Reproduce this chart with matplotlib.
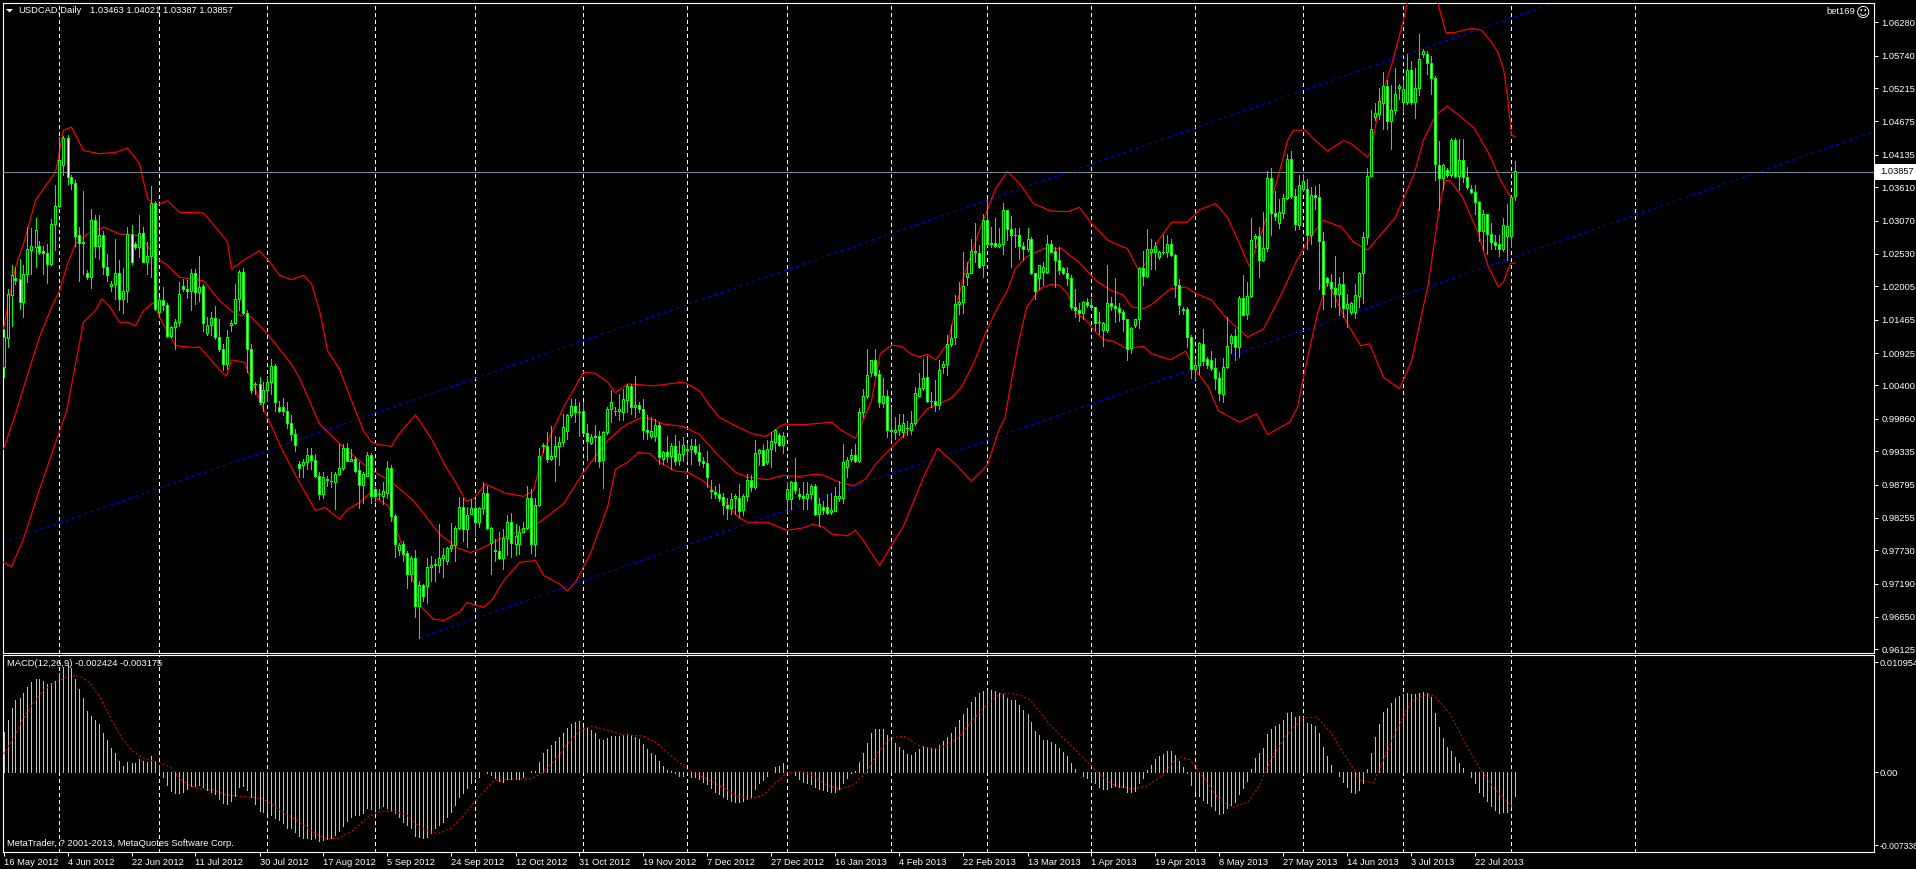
import numpy as np
import matplotlib
matplotlib.use("Agg")
import matplotlib.pyplot as plt
from matplotlib.patches import Polygon, Rectangle

W, H = 1916, 869
plt.rcParams['font.family'] = ['Liberation Sans', 'DejaVu Sans']
plt.rcParams['lines.scale_dashes'] = False

# ---- candles, in pips (price x 10000), one value per daily bar ----
open_pips = [
10068,10116,10185,10213,10211,10173,10219,10258,10262,10264,
10257,10253,10235,10300,10329,10396,10440,10376,10367,10282,
10271,10221,10214,10307,10264,10282,10230,10199,10203,10221,
10179,10192,10284,10268,10262,10286,10238,10248,10334,10157,
10177,10169,10118,10133,10141,10199,10195,10191,10221,10190,
10199,10124,10137,10148,10117,10098,10074,10136,10139,10179,
10223,10156,10098,10041,10041,10012,10031,10044,10070,10003,
10003,9998,9978,9960,9912,9909,9914,9926,9918,9892,
9862,9887,9884,9883,9895,9905,9937,9917,9919,9901,
9877,9892,9926,9871,9862,9859,9865,9905,9827,9772,
9782,9767,9733,9759,9681,9716,9714,9744,9747,9748,
9759,9754,9775,9780,9808,9841,9806,9831,9840,9817,
9840,9864,9783,9772,9770,9759,9791,9818,9782,9782,
9802,9808,9856,9782,9845,9940,9940,9919,9924,9940,
9947,9965,9991,10005,9996,9997,9961,9945,9955,9957,
9918,9963,10001,9998,9998,9996,10015,10037,10003,10007,
10000,9966,9956,9956,9974,9919,9930,9925,9941,9918,
9928,9934,9936,9941,9931,9916,9913,9870,9866,9863,
9858,9845,9840,9856,9856,9837,9859,9885,9874,9929,
9934,9914,9936,9947,9959,9942,9854,9854,9883,9863,
9860,9856,9863,9875,9830,9842,9842,9833,9836,9856,
9856,9907,9919,9926,9917,9996,10022,10061,10079,10057,
10010,10021,9967,9963,9967,9963,9970,9966,9978,10022,
10035,10052,10013,10014,10007,10068,10074,10105,10117,10170,
10174,10215,10221,10254,10253,10233,10306,10267,10270,10265,
10267,10322,10292,10283,10283,10265,10259,10276,10220,10213,
10223,10222,10267,10256,10242,10228,10221,10213,10165,10161,
10156,10173,10169,10165,10141,10129,10129,10172,10167,10164,
10158,10147,10099,10136,10147,10229,10216,10254,10254,10246,
10254,10254,10268,10250,10201,10162,10162,10117,10065,10072,
10106,10082,10080,10067,10051,10025,10068,10107,10119,10101,
10180,10154,10184,10278,10281,10241,10261,10375,10318,10301,
10318,10342,10406,10346,10299,10357,10357,10282,10347,10344,
10273,10213,10206,10197,10186,10203,10164,10157,10157,10184,
10221,10279,10378,10473,10479,10496,10523,10467,10485,10520,
10498,10498,10549,10498,10521,10576,10576,10561,10536,10396,
10375,10387,10380,10436,10377,10403,10376,10356,10352,10335,
10289,10316,10284,10271,10268,10259,10281,10281,10346]

close_pips = [
10117,10186,10218,10210,10173,10219,10260,10264,10291,10255,
10253,10235,10300,10329,10404,10440,10376,10366,10281,10270,
10270,10214,10307,10264,10282,10230,10218,10203,10221,10179,
10192,10284,10238,10262,10286,10238,10249,10334,10163,10177,
10169,10118,10133,10141,10187,10194,10191,10221,10190,10198,
10139,10137,10148,10117,10097,10074,10117,10140,10179,10223,
10156,10098,10031,10041,10011,10031,10044,10070,10012,9998,
9998,9978,9960,9942,9905,9914,9926,9918,9892,9863,
9891,9885,9884,9895,9905,9937,9916,9919,9900,9877,
9895,9926,9859,9860,9862,9867,9905,9827,9782,9780,
9765,9733,9759,9681,9716,9697,9744,9748,9749,9759,
9764,9775,9780,9808,9841,9806,9829,9840,9817,9840,
9864,9807,9807,9770,9759,9791,9818,9783,9794,9802,
9807,9856,9782,9845,9924,9942,9919,9924,9940,9947,
9971,9991,10005,9995,9996,9961,9948,9955,9957,9917,
9963,10000,10012,9998,10001,10016,10037,10003,10007,10000,
9966,9963,9964,9974,9922,9930,9925,9941,9917,9928,
9942,9936,9941,9930,9916,9913,9891,9868,9863,9857,
9845,9840,9854,9859,9836,9859,9885,9874,9929,9934,
9910,9936,9948,9967,9942,9957,9871,9883,9870,9859,
9856,9863,9875,9830,9846,9837,9832,9837,9859,9859,
9915,9918,9926,9916,9996,10022,10056,10079,10056,10011,
10021,9967,9965,9967,9975,9977,9969,9978,10027,10035,
10051,10013,10013,10007,10064,10074,10105,10116,10171,10174,
10199,10221,10256,10256,10231,10306,10267,10270,10265,10267,
10322,10292,10283,10283,10265,10259,10276,10220,10192,10233,
10231,10268,10255,10242,10226,10221,10213,10165,10161,10156,
10173,10169,10165,10140,10141,10140,10172,10167,10164,10158,
10147,10098,10131,10147,10229,10216,10260,10260,10264,10255,
10254,10268,10250,10201,10169,10161,10117,10065,10072,10107,
10078,10072,10067,10051,10026,10069,10103,10119,10101,10180,
10153,10184,10274,10281,10242,10261,10375,10318,10313,10319,
10342,10406,10346,10300,10364,10369,10282,10347,10344,10273,
10187,10206,10197,10186,10203,10164,10171,10172,10185,10221,
10279,10378,10454,10480,10500,10523,10467,10485,10511,10523,
10519,10549,10498,10521,10568,10580,10561,10536,10398,10375,
10395,10380,10436,10377,10403,10376,10360,10352,10335,10289,
10317,10284,10271,10266,10259,10298,10297,10344,10386]

high_pips = [
10130,10195,10233,10230,10244,10233,10295,10294,10310,10272,
10265,10268,10308,10364,10441,10443,10445,10379,10371,10295,
10353,10226,10324,10315,10315,10288,10252,10208,10276,10242,
10229,10295,10298,10271,10315,10295,10271,10361,10338,10182,
10198,10172,10135,10146,10206,10211,10210,10227,10227,10248,
10203,10149,10157,10168,10146,10106,10129,10144,10203,10226,
10229,10160,10106,10044,10052,10044,10054,10081,10073,10014,
10018,10012,9990,9968,9917,9919,9937,9937,9928,9898,
9898,9892,9898,9898,9944,9944,9946,9936,9922,9914,
9899,9930,9929,9874,9871,9882,9917,9909,9830,9784,
9787,9771,9763,9772,9722,9717,9759,9763,9757,9814,
9776,9777,9816,9811,9858,9856,9841,9855,9855,9841,
9882,9876,9809,9790,9801,9806,9828,9832,9814,9811,
9817,9876,9871,9857,9937,9945,9963,9973,9956,9955,
9992,9992,10017,10017,10011,10011,9976,9960,9975,9965,
9965,10003,10032,10003,10025,10033,10041,10041,10054,10012,
10016,9990,9987,9984,9979,9932,9957,9946,9959,9949,
9955,9946,9952,9952,9944,9922,9932,9886,9876,9879,
9864,9857,9864,9863,9879,9863,9895,9894,9950,9936,
9943,9950,9963,9968,9962,9963,9882,9884,9921,9873,
9883,9882,9879,9879,9857,9852,9863,9864,9874,9884,
9944,9923,9936,9944,10002,10033,10098,10080,10098,10063,
10051,10031,10004,9987,9992,9993,9981,9998,10036,10058,
10082,10086,10028,10048,10080,10078,10120,10136,10185,10206,
10255,10239,10275,10302,10266,10317,10340,10296,10309,10293,
10334,10322,10313,10293,10293,10271,10293,10279,10221,10234,
10239,10283,10274,10263,10262,10230,10231,10217,10194,10172,
10175,10180,10181,10165,10158,10141,10233,10182,10213,10172,
10160,10147,10133,10147,10230,10257,10292,10275,10271,10257,
10283,10283,10276,10252,10211,10165,10165,10121,10081,10109,
10130,10084,10094,10083,10060,10083,10150,10122,10130,10184,
10217,10206,10310,10284,10295,10319,10386,10391,10354,10341,
10349,10414,10419,10357,10379,10381,10373,10360,10362,10365,
10287,10214,10219,10249,10215,10222,10186,10173,10203,10223,
10287,10391,10484,10496,10520,10546,10533,10525,10552,10527,
10533,10576,10564,10552,10607,10583,10581,10572,10539,10434,
10398,10390,10440,10440,10437,10438,10392,10363,10363,10338,
10322,10317,10301,10282,10282,10309,10333,10346,10402]

low_pips = [
10052,10101,10135,10203,10162,10149,10206,10219,10230,10252,
10219,10204,10233,10258,10327,10380,10365,10357,10265,10207,
10219,10211,10197,10247,10244,10219,10208,10191,10179,10160,
10156,10173,10235,10260,10246,10238,10219,10214,10160,10150,
10160,10117,10117,10098,10135,10192,10181,10161,10171,10176,
10126,10121,10121,10114,10094,10063,10065,10127,10138,10160,
10154,10060,10027,10025,10009,9998,10014,10025,9998,9995,
9990,9970,9950,9932,9891,9891,9903,9903,9890,9855,
9857,9876,9874,9839,9894,9902,9916,9917,9899,9840,
9848,9892,9849,9852,9855,9847,9857,9819,9761,9764,
9755,9710,9722,9663,9630,9690,9687,9722,9722,9736,
9728,9749,9771,9754,9806,9787,9777,9830,9794,9809,
9830,9806,9733,9755,9757,9741,9764,9760,9764,9765,
9801,9806,9768,9762,9844,9930,9914,9918,9884,9909,
9940,9952,9987,9979,9957,9960,9918,9944,9917,9907,
9872,9960,9980,9990,9982,9982,9995,9992,9987,9995,
9952,9952,9953,9949,9912,9911,9914,9903,9909,9909,
9917,9917,9911,9927,9909,9906,9874,9857,9857,9852,
9830,9822,9830,9830,9826,9829,9852,9867,9871,9909,
9909,9911,9906,9933,9941,9929,9833,9838,9865,9855,
9838,9838,9855,9828,9811,9830,9830,9830,9835,9852,
9849,9890,9917,9914,9914,9988,10019,10054,10054,10004,
10004,9955,9950,9952,9958,9955,9958,9960,9974,10021,
10032,10012,10004,9998,10001,10059,10055,10103,10106,10155,
10156,10201,10220,10239,10229,10214,10266,10263,10263,10263,
10251,10274,10231,10263,10244,10242,10256,10219,10178,10195,
10201,10221,10254,10198,10219,10219,10201,10163,10149,10143,
10147,10166,10161,10128,10122,10103,10125,10160,10141,10143,
10127,10080,10091,10133,10132,10201,10214,10227,10227,10244,
10252,10246,10249,10182,10154,10154,10101,10051,10049,10057,
10072,10067,10064,10033,10015,10011,10067,10091,10079,10085,
10153,10146,10182,10262,10214,10240,10257,10283,10306,10294,
10310,10341,10342,10291,10292,10354,10260,10268,10325,10195,
10163,10199,10165,10165,10153,10149,10134,10154,10148,10165,
10172,10267,10377,10468,10470,10454,10454,10421,10479,10503,
10481,10495,10495,10471,10509,10570,10543,10510,10372,10322,
10356,10376,10376,10376,10355,10368,10357,10350,10317,10273,
10258,10252,10260,10260,10249,10257,10242,10263,10339]

# ---- Bollinger bands: bar number and level in pips, read at the bends ----
upper_bar = [0,3,5,8,10,13,15,17,20,24,28,31,34,36,38,41,44,50,53,56,57,60,64,67,69,72,75,77,79,81,84,87,90,92,93.5,97,98.5,103,107,110.4,113,115.6,117.5,120.5,125.5,130,132.5,135,140,145,148,151,153,156,162.5,170,174,176.5,179,183,187,190.5,195,200,207,209,213,217,219.2,222,224.5,227,229,231,233,236,240,244,248,251,254,257.5,262,266,269,272,276,281,284,286,289,292,296,299,303,306,309,311.5,315,317,319,321,322.5,325.5,327.5,331,335,337,341,342,342.8,344.2,347,350,351,353,355,357.5,358.6,360.6,362.7,365,367,369.5,371.5,373.5,375,376,377,378]
upper_pips = [10130,10230,10268,10338,10357,10384,10452,10457,10419,10414,10416,10423,10398,10341,10330,10338,10319,10318,10295,10271,10227,10241,10257,10235,10217,10210,10217,10203,10160,10095,10065,10014,9965,9947,9943,9940,9957,9991,9952,9909,9882,9851,9855,9879,9864,9859,9868,9933,10003,10060,10058,10044,10027,10041,10038,10044,10030,10006,9987,9973,9961,9956,9976,9975,9979,9968,9953,10014,10090,10104,10102,10089,10085,10089,10080,10106,10214,10290,10357,10385,10366,10333,10321,10320,10327,10301,10274,10260,10222,10241,10276,10303,10303,10323,10333,10311,10268,10231,10295,10340,10385,10435,10452,10452,10438,10418,10435,10430,10408,10419,10452,10500,10557,10630,10660,10710,10740,10690,10657,10610,10610,10614,10617,10614,10599,10579,10552,10506,10444,10441]

middle_bar = [0,3.3,5,9,12,14,16,18,21,25,29,34,36,38,41,44,50,54,58,62,66,72,74.2,79,85,92,96.7,102.5,109,113.3,116.7,120,124,129,134,140,145,151,154,156,159.6,162.5,165,170,174,178,183,186,191,195,199,203,205,209,212.5,215.5,218,221.7,228,231,236.7,239.5,242.5,245.8,248,251,253,255.8,260,264.6,269.2,273,276.7,280,282,285,286.7,291.7,295.5,298.3,302,305.5,311,315,319.5,323.3,326.7,330,334.5,337.5,341,344.2,348,352.7,355,358,360.9,363.9,367.7,371.6,374.1,376.7,378]
middle_pips = [9935,9998,10035,10117,10165,10192,10235,10268,10284,10295,10284,10281,10265,10246,10233,10214,10208,10176,10154,10149,10122,10073,10048,9976,9938,9901,9884,9852,9798,9776,9768,9776,9790,9803,9817,9847,9898,9949,9967,9976,9987,9983,9976,9972,9959,9930,9898,9890,9886,9893,9891,9895,9893,9882,9876,9887,9911,9936,9977,10001,10017,10036,10074,10128,10158,10193,10228,10247,10260,10260,10236,10209,10193,10185,10166,10163,10168,10195,10198,10187,10177,10149,10117,10130,10187,10241,10279,10306,10295,10271,10258,10282,10311,10382,10436,10476,10491,10476,10455,10411,10373,10344,10341]

lower_bar = [0,2,5,9,13,15.8,18,20,23,24.6,26.7,29,31,33,35,37.5,39,43,47.5,49,54.6,55.8,57,60.4,61,65,66,70,74.2,78,80.4,84,86,89,92,92.9,96.2,99.2,102.5,104.2,107.5,110,114,115.8,120,122,125,129,133,135,139,141,143,146.7,151,153,156,158.7,161.7,164,168,171,175,177.5,181,183.7,186,191,195.8,200,202.5,205,207,211,213,215,219,225,230,233.5,237.5,242,246,248.8,250.4,252,253.7,255.8,257,259,261.7,264,266,268,270.7,273,275,277.5,281,285,287,291.7,295.5,297.5,301.2,303.7,309,313.3,316,321.5,323.5,325.5,328.5,331,336,339.3,341.5,345,349,352,355.3,356.2,359.2,360.4,361.7,364.7,368.6,371.1,373.7,375,376.7,378]
lower_pips = [9752,9745,9790,9870,9945,9998,10073,10141,10160,10179,10165,10141,10141,10135,10160,10173,10149,10103,10100,10101,10060,10054,10080,10076,10063,10000,9987,9930,9879,9836,9841,9822,9838,9849,9866,9857,9844,9787,9722,9682,9660,9658,9671,9687,9679,9690,9722,9752,9755,9731,9717,9706,9720,9766,9841,9903,9914,9930,9928,9914,9900,9898,9884,9868,9847,9825,9817,9817,9804,9808,9814,9809,9798,9795,9804,9787,9747,9811,9890,9937,9914,9884,9910,9966,9987,10047,10106,10166,10176,10195,10202,10201,10187,10157,10144,10125,10113,10110,10098,10102,10090,10080,10094,10068,10036,9998,9979,9993,9959,9979,10003,10068,10155,10208,10138,10103,10106,10052,10033,10078,10176,10203,10338,10371,10370,10344,10287,10233,10198,10206,10236,10237]

# ---- MACD histogram per bar and its signal line, in units of 0.0001 ----
macd_e4 = [
40,52,64,72,74,79,85,90,93,93,
91,88,89,91,99,105,107,104,93,83,
74,61,56,52,48,39,32,24,19,11,
6,10,9,9,13,11,10,16,11,7,
-5,-13,-19,-21,-21,-20,-17,-14,-14,-13,
-15,-18,-20,-22,-27,-31,-32,-29,-24,-15,
-14,-18,-25,-32,-39,-40,-41,-43,-46,-48,
-51,-56,-56,-60,-64,-66,-66,-67,-66,-69,
-68,-67,-66,-63,-59,-54,-49,-45,-43,-43,
-41,-36,-37,-40,-36,-34,-36,-39,-41,-45,
-50,-53,-56,-64,-65,-66,-65,-61,-56,-53,
-50,-45,-40,-33,-25,-21,-16,-11,-5,-5,
0,-1,-3,-6,-9,-10,-7,-7,-7,-7,
-5,0,1,1,10,19,23,27,31,35,
39,44,48,50,51,45,44,42,39,33,
32,34,36,36,36,37,38,37,35,33,
28,23,19,17,11,6,2,1,-1,-4,
-4,-1,-5,-5,-7,-10,-12,-16,-20,-22,
-25,-27,-29,-30,-30,-29,-27,-25,-17,-11,
-8,-4,0,5,6,9,0,0,-3,-7,
-10,-11,-12,-15,-17,-18,-19,-20,-20,-17,
-11,-6,-1,1,10,19,29,39,43,43,
43,37,32,29,25,22,18,17,20,23,
25,25,24,23,27,31,35,39,45,52,
58,64,70,75,79,81,82,82,81,79,
78,74,72,72,67,62,58,50,41,37,
32,32,30,28,24,20,16,9,3,0,
-4,-6,-8,-11,-15,-17,-17,-15,-14,-15,
-15,-20,-20,-19,-11,-6,2,7,13,16,
18,21,21,17,11,5,-1,-13,-20,-24,
-28,-31,-34,-38,-42,-41,-36,-33,-30,-22,
-16,-9,3,14,19,24,38,43,46,48,
52,59,60,55,56,52,49,48,46,39,
25,16,7,0,-4,-10,-15,-20,-21,-18,
-11,3,19,35,48,60,64,69,74,76,
78,79,78,78,79,80,79,75,59,45,
34,25,21,15,9,4,0,-5,-11,-20,
-24,-29,-34,-38,-41,-40,-40,-36,-24]

signal_bar = [0,2.5,5,7.5,10,13.3,16.2,19,21.7,24.2,27,29.6,32.5,35,38.3,41.7,44,46.7,49,52.5,55.8,61.7,65,69.2,72.5,76.7,80.8,84,87.5,90.8,93.3,97.5,100.8,104,106.7,109,112,114.6,117.5,120,122.5,127.5,131.7,134.6,137.5,140.8,144.2,147,150.8,155,160,163.3,166.7,170.8,175,179.2,183.3,186.7,190,193,195.8,199.2,202.5,205.8,209,212.5,215.8,219,222,225,228.5,231.3,234.6,238.5,241.7,244,246.7,249,251,254,256.7,261.7,266.7,271.7,275,278.3,282.5,285.8,289.2,292.5,294.2,296.7,299,301.7,304,307.5,311.2,314,317,320.8,325,328.3,331.7,335.8,339.2,342.5,345,347.9,352,353.2,356.5,358,361.5,365,369,373,377,378]
signal_e4 = [18,34,54,69,82,90,96,96,89,74,52,34,20,14,10,5,-6,-14,-17,-18,-23,-25,-27,-38,-46,-58,-67,-66,-58,-46,-40,-39,-43,-55,-60,-61,-56,-45,-31,-20,-9,-7,-7,-1,10,27,42,46,42,37,36,29,17,3,-5,-14,-24,-27,-23,-11,-1,1,-4,-13,-17,-13,0,22,34,36,27,24,24,34,49,60,70,78,79,77,72,47,27,7,-6,-14,-17,-14,-5,10,15,12,0,-15,-28,-35,-30,-13,14,37,54,55,40,14,-8,-11,12,39,70,74,78,75,59,32,4,-18,-34,-33]

# ---- axis texts and levels ----
price_ticks = [1.06280,1.05740,1.05215,1.04675,1.04135,1.03610,1.03070,1.02530,1.02005,1.01465,
               1.00925,1.00400,0.99860,0.99335,0.98795,0.98255,0.97730,0.97190,0.96650,0.96125]
macd_ticks = [0.010954, 0.0, -0.007338]
macd_tick_labels = ['0.010954', '0.00', '-0.007338']
date_labels = ['16 May 2012','4 Jun 2012','22 Jun 2012','11 Jul 2012','30 Jul 2012','17 Aug 2012','5 Sep 2012','24 Sep 2012',
               '12 Oct 2012','31 Oct 2012','19 Nov 2012','7 Dec 2012','27 Dec 2012','16 Jan 2013','4 Feb 2013','22 Feb 2013',
               '13 Mar 2013','1 Apr 2013','19 Apr 2013','8 May 2013','27 May 2013','14 Jun 2013','3 Jul 2013','22 Jul 2013']
date_bars = list(range(0, 369, 16))
separator_bars = [14,39,66,93,118,145,171,196,222,246,272,298,325,350,377,408]
bid_price = 1.03857
lower_channel_bar, lower_channel_price = [104, 467.5], [0.9630, 1.0449]
upper_channel_bar, upper_channel_price = [-0.25, 387.7], [0.9784, 1.0658]

READ_OFFSET = 0.00014   # my pixel reads against the bid line at 1.03857
def prices(pips):
    return np.array(pips, dtype=float) / 1e4 + READ_OFFSET

O, C, Hi, Lo = map(prices, (open_pips, close_pips, high_pips, low_pips))
bars = np.arange(len(O))

fig = plt.figure(figsize=(W / 100, H / 100), dpi=100, facecolor='black')

def add_axes_px(x0, x1, y_top, y_bottom):
    ax = fig.add_axes([x0 / W, 1 - y_bottom / H, (x1 - x0) / W, (y_bottom - y_top) / H], facecolor='black')
    for s in ax.spines.values():
        s.set_color('white')
        s.set_linewidth(0.8)
    return ax

def ftext(x, y, s, **kw):
    kw.setdefault('color', 'white')
    kw.setdefault('fontsize', 6.75)
    kw.setdefault('va', 'center')
    return fig.text(x / W, 1 - y / H, s, **kw)

PX = 0.72
X_LIM = (-0.25, 467.5)
sep_style = dict(color='white', linewidth=PX, linestyle=(0, (2.2, 2.2)), antialiased=False, zorder=1)

# ---- price panel ----
ax = add_axes_px(2.5, 1873.5, 2.5, 652.5)
ax.set_xlim(*X_LIM)
ax.set_ylim(1.06602 - 650 * 0.00016196, 1.06602)
ax.set_xticks([])
ax.yaxis.tick_right()
ax.set_yticks(price_ticks)
ax.set_yticklabels([f'{t:.5f}' for t in price_ticks])
ax.tick_params(axis='y', colors='white', length=3, width=PX, pad=2.5, labelsize=6.75)
ax.vlines(separator_bars, *ax.get_ylim(), **sep_style)
ax.plot(lower_channel_bar, np.array(lower_channel_price) + READ_OFFSET, color='#0000ff', lw=PX, ls=(0, (2.4, 2.4)), zorder=2)
ax.plot(upper_channel_bar, np.array(upper_channel_price) + READ_OFFSET, color='#0000ff', lw=PX, ls=(0, (2.4, 2.4)), zorder=2)
for b, p in ((upper_bar, upper_pips), (middle_bar, middle_pips), (lower_bar, lower_pips)):
    ax.plot(b, prices(p), color='#ff0000', lw=0.85, zorder=3)
ax.axhline(bid_price, color='#778899', lw=PX, zorder=4)

bull = C >= O
ax.vlines(bars, Lo, Hi, color='#00ff00', linewidth=PX, antialiased=False, zorder=5)
ax.bar(bars, np.abs(C - O), bottom=np.minimum(O, C), width=0.5,
       color=np.where(bull, 'black', 'white').tolist(), edgecolor='#00ff00', linewidth=PX, antialiased=False, zorder=6)

# ---- MACD panel ----
ax2 = add_axes_px(2.5, 1873.5, 655, 851.5)
ax2.set_xlim(*X_LIM)
ax2.set_ylim(-79.5e-4, 117e-4)
ax2.yaxis.tick_right()
ax2.set_yticks(macd_ticks)
ax2.set_yticklabels(macd_tick_labels)
ax2.tick_params(axis='y', colors='white', length=3, width=PX, pad=1.5, labelsize=6.75)
ax2.get_yticklabels()[2].set_fontsize(6.2)
ax2.set_xticks(date_bars)
ax2.set_xticklabels(date_labels, ha='left')
ax2.tick_params(axis='x', colors='white', length=3, width=PX, pad=1.5, labelsize=6.75)
ax2.vlines(separator_bars, *ax2.get_ylim(), **sep_style)
ax2.vlines(bars, 0, np.array(macd_e4) * 1e-4, color='#c0c0c0', linewidth=PX, antialiased=False, zorder=2)
ax2.plot(signal_bar, np.array(signal_e4) * 1e-4, color='#ff0000', lw=PX, ls=(0, (1.4, 1.6)), zorder=3)

# ---- texts ----
fig.patches.append(Polygon([[6 / W, 1 - 9 / H], [13 / W, 1 - 9 / H], [9.5 / W, 1 - 12.5 / H]], closed=True,
                           facecolor='white', edgecolor='none', transform=fig.transFigure, zorder=10))
ftext(18, 10.5, 'USDCAD,Daily')
ftext(90, 10.5, '1.03463 1.04021 1.03387 1.03857')
ftext(1855, 12, 'bet169', ha='right')
ftext(1862.7, 12.5, '\u263a', ha='center', family=['DejaVu Sans'], fontsize=10)
ftext(7, 663, 'MACD(12,26,9) -0.002424 -0.003175')
ftext(7, 843.5, 'MetaTrader, ? 2001-2013, MetaQuotes Software Corp.')
ftext(1880, 172, '1.03857', color='black', zorder=11)
fig.patches.append(Rectangle((1875 / W, 1 - 180 / H), 41 / W, 16 / H, facecolor='white', edgecolor='none',
                             transform=fig.transFigure, zorder=9))

fig.savefig('out.png', dpi=100, facecolor='black')
